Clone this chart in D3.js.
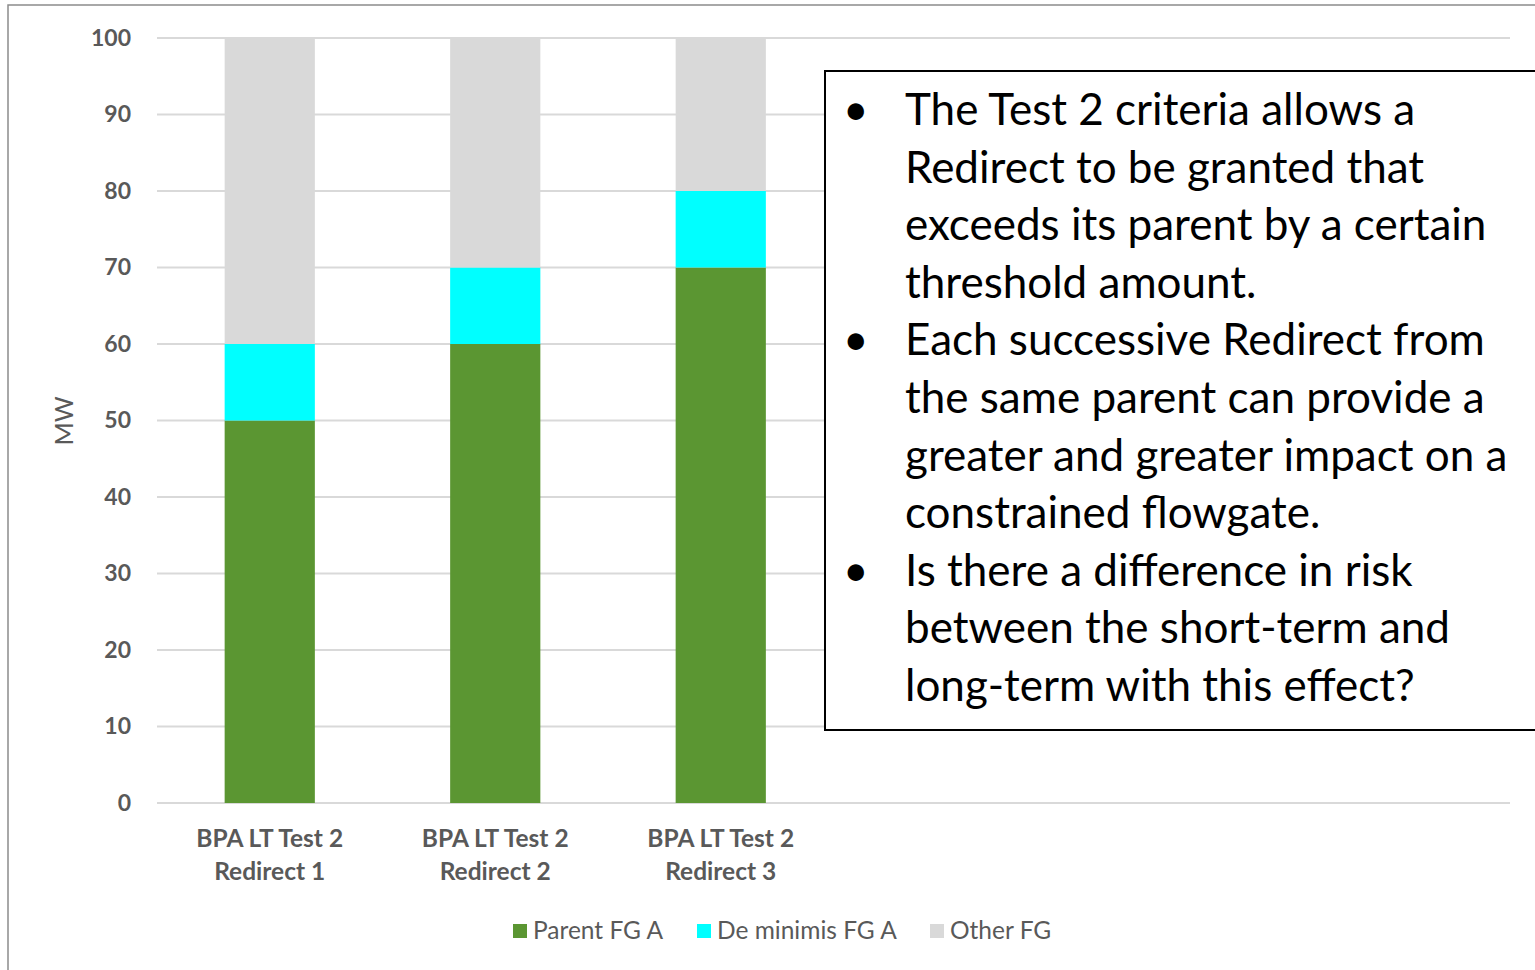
<!doctype html>
<html lang="en">
<head>
<meta charset="utf-8">
<title>BPA LT Test 2 Redirects</title>
<style>
body { margin: 0; background: #fff; font-family: Lato, "Open Sans", sans-serif; }
svg { display: block; }
</style>
</head>
<body>
<svg id="chart" width="1535" height="970"></svg>
<script src="https://d3js.org/d3.v7.min.js"></script>
<script>
var categories = [["BPA LT Test 2", "Redirect 1"], ["BPA LT Test 2", "Redirect 2"], ["BPA LT Test 2", "Redirect 3"]];
var parentFG = [50, 60, 70];
var deMinimisFG = [10, 10, 10];
var otherFG = [40, 30, 20];
var seriesNames = ["Parent FG A", "De minimis FG A", "Other FG"];
var seriesColors = ["#5b9632", "#00ffff", "#d9d9d9"];
var yTicks = [0, 10, 20, 30, 40, 50, 60, 70, 80, 90, 100];
var bullets = [
    ["The Test 2 criteria allows a", "Redirect to be granted that", "exceeds its parent by a certain", "threshold amount."],
    ["Each successive Redirect from", "the same parent can provide a", "greater and greater impact on a", "constrained flowgate."],
    ["Is there a difference in risk", "between the short-term and", "long-term with this effect?"]
];

var svg = d3.select("#chart");

// outer chart border
svg.append("rect")
    .attr("x", 8).attr("y", 5).attr("width", 1540).attr("height", 980)
    .attr("fill", "none").attr("stroke", "#8c8c8c").attr("stroke-width", 1.5);

var plotLeft = 157, plotRight = 1510, plotTop = 38, plotBottom = 803;

// six slots on the axis, only the first three used
var slots = categories.map(function(c, i) { return "c" + i; }).concat(["e0", "e1", "e2"]);
var x = d3.scaleBand().domain(slots).range([plotLeft, plotRight]).paddingInner(0.6).paddingOuter(0.3);
var y = d3.scaleLinear().domain([0, 100]).range([plotBottom, plotTop]);

// gridlines
svg.append("g")
    .selectAll("line").data(yTicks).join("line")
    .attr("x1", plotLeft).attr("x2", plotRight)
    .attr("y1", function(d) { return y(d); }).attr("y2", function(d) { return y(d); })
    .attr("stroke", "#d9d9d9").attr("stroke-width", 2);

// y axis labels
var yAxis = svg.append("g")
    .attr("transform", "translate(" + (plotLeft - 26) + ",0)")
    .call(d3.axisLeft(y).tickValues(yTicks).tickSize(0).tickPadding(0));
yAxis.select(".domain").remove();
yAxis.selectAll("text")
    .attr("fill", "#595959")
    .style("font-family", "Lato, sans-serif")
    .style("font-size", "23px")
    .style("font-weight", "700");

// stacked bars
var rows = categories.map(function(c, i) {
    return { key: "c" + i, p: parentFG[i], d: deMinimisFG[i], o: otherFG[i] };
});
var stack = d3.stack().keys(["p", "d", "o"]);
var layers = stack(rows);

svg.append("g")
    .selectAll("g").data(layers).join("g")
    .attr("fill", function(d, i) { return seriesColors[i]; })
    .selectAll("rect").data(function(d) { return d; }).join("rect")
    .attr("x", function(d) { return x(d.data.key); })
    .attr("width", x.bandwidth())
    .attr("y", function(d) { return y(d[1]); })
    .attr("height", function(d) { return y(d[0]) - y(d[1]); });

// category labels
var catG = svg.append("g")
    .selectAll("text").data(categories).join("text")
    .attr("x", function(d, i) { return x("c" + i) + x.bandwidth() / 2; })
    .attr("y", 847)
    .attr("text-anchor", "middle")
    .attr("fill", "#595959")
    .style("font-size", "24.5px")
    .style("font-weight", "700");
catG.selectAll("tspan").data(function(d) { return d; }).join("tspan")
    .attr("x", function() { return d3.select(this.parentNode).attr("x"); })
    .attr("dy", function(d, i) { return i === 0 ? 0 : 33; })
    .text(function(d) { return d; });

// y axis title
svg.append("text")
    .attr("transform", "translate(73,421) rotate(-90)")
    .attr("text-anchor", "middle")
    .attr("fill", "#595959")
    .style("font-size", "25px")
    .text("MW");

// legend
var legendX = [513, 697, 930];
var legend = svg.append("g")
    .selectAll("g").data(seriesNames).join("g")
    .attr("transform", function(d, i) { return "translate(" + legendX[i] + ",931)"; });
legend.append("rect")
    .attr("x", 0).attr("y", -7).attr("width", 14).attr("height", 14)
    .attr("fill", function(d, i) { return seriesColors[i]; });
legend.append("text")
    .attr("x", 20).attr("y", 8)
    .attr("fill", "#595959")
    .style("font-size", "24.5px")
    .text(function(d) { return d; });

// text box
svg.append("rect")
    .attr("x", 825).attr("y", 71).attr("width", 760).attr("height", 659)
    .attr("fill", "#fff").attr("stroke", "#000").attr("stroke-width", 2);

var lineH = 57.6, lineIdx = 0;
var tb = svg.append("g").style("font-size", "44px").attr("fill", "#000");
bullets.forEach(function(b) {
    tb.append("text")
        .attr("x", 843).attr("y", 125 + lineIdx * lineH)
        .text("\u2022");
    b.forEach(function(line) {
        tb.append("text")
            .attr("x", 905).attr("y", 125 + lineIdx * lineH)
            .text(line);
        lineIdx++;
    });
});
</script>
</body>
</html>
